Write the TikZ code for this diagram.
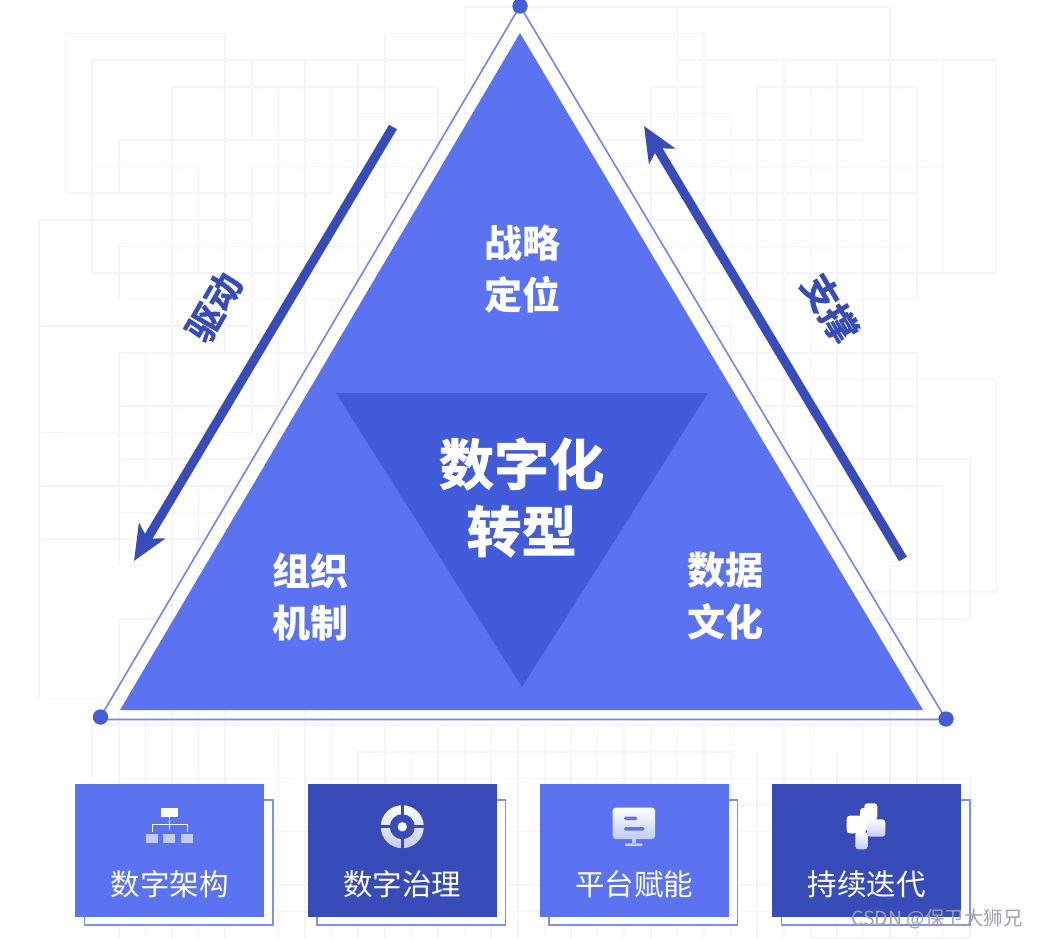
\documentclass[tikz,border=0pt]{standalone}
\usepackage{fontspec}
\usepackage{xcolor}
\setmainfont{Noto Sans CJK SC}
\newfontfamily\heavyfont[UprightFont=* Bold,FakeBold=1.6]{Noto Sans CJK SC}
\usetikzlibrary{arrows.meta,shapes.geometric}
\definecolor{bgline}{HTML}{F3F4FF}
\definecolor{mainblue}{HTML}{5B73F1}
\definecolor{coreblue}{HTML}{425BDA}
\definecolor{deepblue}{HTML}{384CB9}
\definecolor{edgeblue}{HTML}{7085F5}
\definecolor{dotblue}{HTML}{465CD6}
\definecolor{backline}{HTML}{7E90F5}
\definecolor{iconpale}{HTML}{C3CCF8}
\definecolor{mark}{HTML}{9EA2AE}
\tikzset{
  gridline/.style={draw=bgline, line width=1.6pt},
  corner/.style={circle, fill=dotblue, minimum size=15pt, inner sep=0pt},
  outline/.style={draw=edgeblue, line width=1.6pt, line join=round},
  flow/.style={draw=deepblue, line width=9pt,
               -{Stealth[length=35pt,width=30pt,inset=9pt]}},
  flowlabel/.style={text=deepblue, font=\fontsize{36}{36}\selectfont\heavyfont},
  sidelabel/.style={text=white, align=center, font=\fontsize{38}{52}\selectfont\bfseries},
  corelabel/.style={text=white, align=center, font=\fontsize{55}{67}\selectfont\heavyfont},
  card/.style={minimum width=189pt, minimum height=133pt, inner sep=0pt, outer sep=0pt},
  cardback/.style={draw=backline, fill=white, line width=1.3pt},
  cardlabel/.style={text=white, font=\fontsize{29.5}{29.5}\selectfont},
  iconshade/.style={top color=white, bottom color=iconpale, draw=none}
}
\begin{document}
\begin{tikzpicture}[x=1pt,y=-1pt]
  \useasboundingbox (0,0) rectangle (1038,938);
  % background lines, in cells of 26.6
  \begin{scope}[shift={(39,7)},x=26.6pt,y=-26.6pt]
    \foreach \row/\from/\to in {0/16/32,1/1/7,1/13/25,2/2/16,2/24/36,3/5/15,3/23/25,3/27/33,
        4/12/17,4/20/26,5/3/16,5/21/31,6/2/6,6/8/14,6/22/34,7/1/11,7/13/15,7/22/33,
        8/0/8,8/23/32,9/3/14,9/23/33,10/2/14,10/24/36,11/3/12,11/25/33,12/0/8,12/25/26,
        13/3/11,13/26/33,14/26/36,15/3/9,15/26/33,16/0/8,16/26/28,17/3/9,17/28/35,
        18/0/11,18/29/34,19/3/8,19/29/31,20/0/7,21/3/8,21/30/33,22/30/36,23/3/6,23/31/35,
        25/4/5,25/32/33,26/0/4,26/33/34,27/2/34,28/12/26,29/3/35,30/19/35,31/3/35,
        33/3/35,34/3/35,35/29/35}
      \draw[gridline] (\from,\row) -- (\to,\row);
    \foreach \col/\from/\to in {0/8/26,1/1/7,2/2/10,2/27/29,3/5/7,3/9/11,3/13/21,3/23/35,
        4/13/18,4/25/35,5/3/35,6/6/10,6/18/35,7/1/13,7/18/35,8/2/5,8/6/16,9/3/17,9/27/35,
        10/2/15,10/18/35,11/3/7,11/11/35,12/2/11,12/28/35,13/1/9,13/27/35,14/6/9,14/28/35,
        15/3/6,15/27/35,16/0/4,16/27/35,17/27/35,18/27/35,19/27/35,20/27/35,21/5/7,21/27/35,
        22/6/8,22/27/35,23/3/9,23/27/35,24/0/6,24/27/35,25/1/12,25/27/35,26/4/15,26/27/35,
        27/3/20,27/28/35,28/2/17,28/27/35,29/3/19,29/27/35,30/2/20,30/28/35,31/3/5,31/7/22,
        31/27/35,32/0/18,32/21/35,33/3/11,33/13/35,34/2/10,34/18/35,35/17/23,35/29/35,36/2/10,36/14/22}
      \draw[gridline] (\col,\from) -- (\col,\to);
  \end{scope}

  % triangles
  \node[corner] (apex) at (520,6) {};
  \node[corner] (left) at (100.5,717) {};
  \node[corner] (right) at (946,719) {};
  \draw[outline] (apex.center) -- (left.center) -- (104,719.5) -- (946,719.5) -- cycle;
  \node[corner] at (apex) {};
  \node[corner] at (left) {};
  \node[corner] at (right) {};
  \fill[mainblue] (520,33) -- (120,710) -- (923,710) -- cycle;
  \fill[coreblue] (336,393) -- (708,393) -- (522,687) -- cycle;

  \node[sidelabel] (strategy) at (522,269) {战略\\定位};
  \node[sidelabel] (organ) at (310,596.5) {组织\\机制};
  \node[sidelabel] (culture) at (725,596.5) {数据\\文化};
  \node[corelabel] (core) at (521.5,497.5) {数字化\\转型};

  % side arrows
  \coordinate (driveA) at (393,127);
  \coordinate (driveB) at (134,561);
  \coordinate (propA) at (903,559);
  \coordinate (propB) at (644,126);
  \draw[flow] (driveA) -- (driveB);
  \draw[flow] (propA) -- (propB);
  \node[flowlabel,rotate=60] (drive) at (214,307) {驱动};
  \node[flowlabel,rotate=-59] (prop) at (830,308) {支撑};

  % cards
  \foreach \name/\xa/\shade/\caption in {archi/75/mainblue/数字架构,govern/307.5/deepblue/数字治理,
      enable/539.5/mainblue/平台赋能,iterate/772/deepblue/持续迭代}{
    \draw[cardback] (\xa+9.5,800) rectangle (\xa+198,925);
    \node[card,fill=\shade,anchor=north west] (\name) at (\xa,784) {};
    \node[cardlabel] (\name text) at (\xa+94.5,884) {\caption};
  }

  % icon: tree
  \fill[white] (160.7,808) rectangle (178,816.7);
  \draw[white,line width=1pt] (169.5,816.7) -- (169.5,830);
  \draw[white,line width=1pt] (152.3,831.5) -- (152.3,824.3) -- (187,824.3) -- (187,831.5);
  \fill[iconpale] (146,834) rectangle (157.7,843.3);
  \fill[iconpale] (163.3,834) rectangle (175,843.3);
  \fill[iconpale] (181,834) rectangle (192.7,843.3);

  % icon: target
  \shade[iconshade] (402.3,826.7) circle (21.5);
  \fill[deepblue] (402.3,826.7) circle (12.5);
  \fill[deepblue] (400.7,804) rectangle (403.9,849);
  \fill[deepblue] (380,825.1) rectangle (425,828.3);
  \fill[white] (402.3,826.7) circle (4.7);

  % icon: screen
  \shade[iconshade,rounded corners=3pt] (612.7,807.7) rectangle (655,839);
  \fill[mainblue,rounded corners=1.5pt] (624,816.7) rectangle (637.3,820);
  \fill[mainblue,rounded corners=1.5pt] (624,827) rectangle (644.3,830.7);
  \fill[iconpale] (631.7,839) rectangle (636,843.3);
  \fill[iconpale,rounded corners=1pt] (625,843.3) rectangle (642.7,846);

  % icon: blocks
  \shade[iconshade,rounded corners=3pt] (855.3,832) rectangle (867.7,849.3);
  \fill[white,rounded corners=3pt] (864.3,803.3) rectangle (877.3,820);
  \fill[white,rounded corners=3pt] (846.7,815.7) rectangle (866,833.3);
  \fill[white,rounded corners=3pt] (860,808) rectangle (870,830);
  \shade[iconshade,rounded corners=3pt] (867.3,819.3) rectangle (885.3,836.7);

  \node[text=mark,font=\fontsize{19.5}{19.5}\selectfont,inner sep=0pt] (stamp) at (937,919)
    {CSDN @保卫大狮兄};
\end{tikzpicture}
\end{document}
